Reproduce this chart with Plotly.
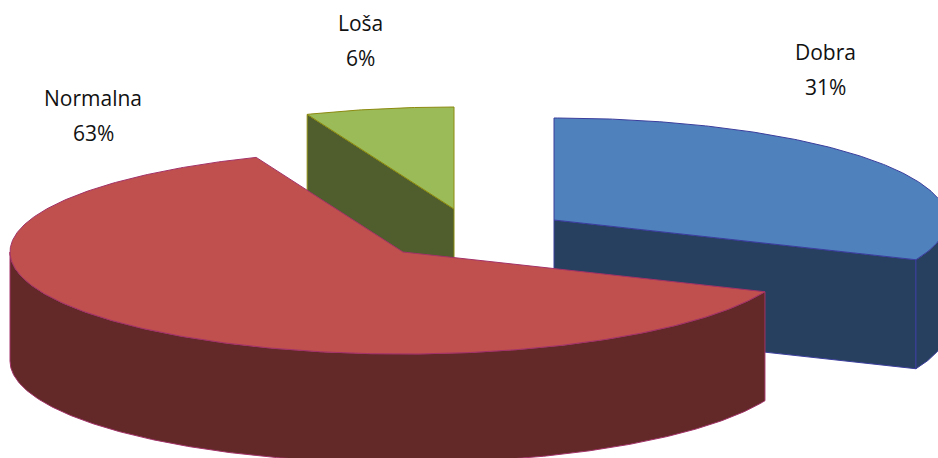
import numpy as np
import plotly.graph_objects as go

# ---- chart data ----
categories = ["Dobra", "Normalna", "Loša"]
values = [31.4, 62.6, 6.1]

# ---- projection and style of the tilted, exploded 3-D pie ----
W, H = 938, 458
RX, RY, DEPTH = 393, 102, 109
APEX = {"Dobra": (554, 220), "Normalna": (403, 252), "Loša": (454, 209)}
TOP = {"Dobra": "#4F81BD", "Normalna": "#C0504D", "Loša": "#9BBB59"}
SIDE = {"Dobra": "#27405F", "Normalna": "#622928", "Loša": "#4F5E2C"}
EDGE = {"Dobra": "#3B3E9C", "Normalna": "#A23268", "Loša": "#8C8A10"}
LABEL_POS = {"Dobra": (825, 52), "Normalna": (93, 98), "Loša": (360, 23)}
LINE_GAP = 35
START = -90.0


def rim(cx, cy, a0, a1, dz=0.0):
    t = np.radians(np.linspace(a0, a1, max(int(abs(a1 - a0) * 2), 2)))
    return cx + RX * np.cos(t), cy + RY * np.sin(t) + dz


def add_poly(fig, xs, ys, fill, edge):
    fig.add_trace(go.Scatter(
        x=np.r_[xs, xs[0]], y=np.r_[ys, ys[0]], mode="lines", fill="toself",
        fillcolor=fill, line=dict(color=edge, width=1), hoverinfo="skip",
        showlegend=False))


def radial_face(fig, name, a):
    cx, cy = APEX[name]
    x, y = rim(cx, cy, a, a + 0.01)
    ex, ey = x[0], y[0]
    add_poly(fig, np.array([cx, ex, ex, cx]),
             np.array([cy, ey, ey + DEPTH, cy + DEPTH]), SIDE[name], EDGE[name])


total = sum(values)
spans = {}
a = START
for name, v in zip(categories, values):
    spans[name] = (a, a + 360.0 * v / total)
    a = spans[name][1]

fig = go.Figure()
for name in ["Dobra", "Loša", "Normalna"]:      # back to front
    a0, a1 = spans[name]
    cx, cy = APEX[name]
    # cut faces that turn towards the viewer
    if np.sin(np.radians(a0 - 90)) > 1e-6:
        radial_face(fig, name, a0)
    if np.sin(np.radians(a1 + 90)) > 1e-6:
        radial_face(fig, name, a1)
    # outer wall: the part of the rim on the near half of the ellipse
    for lo, hi in [(0, 180), (360, 540), (-360, -180)]:
        w0, w1 = max(a0, lo), min(a1, hi)
        if w1 > w0:
            x, y = rim(cx, cy, w0, w1)
            xb, yb = rim(cx, cy, w1, w0, DEPTH)
            add_poly(fig, np.r_[x, xb], np.r_[y, yb], SIDE[name], EDGE[name])
    # top face
    x, y = rim(cx, cy, a0, a1)
    add_poly(fig, np.r_[cx, x], np.r_[cy, y], TOP[name], EDGE[name])

font = dict(family="Open Sans", size=21, color="#111111")
for name, v in zip(categories, values):
    lx, ly = LABEL_POS[name]
    for txt, yy in [(name, ly), (f"{round(v)}%", ly + LINE_GAP)]:
        fig.add_annotation(x=lx, y=yy, xref="x", yref="y", text=txt, showarrow=False,
                           font=font, xanchor="center", yanchor="middle")

fig.update_layout(
    width=W, height=H, margin=dict(l=0, r=0, t=0, b=0), autosize=False,
    paper_bgcolor="white", plot_bgcolor="white", showlegend=False,
    xaxis=dict(range=[0, W], visible=False, fixedrange=True),
    yaxis=dict(range=[H, 0], visible=False, fixedrange=True),
)
fig.write_html("out.html", config={"displayModeBar": False},
               post_script="document.body.style.margin='0';document.documentElement.style.overflow='hidden';")
